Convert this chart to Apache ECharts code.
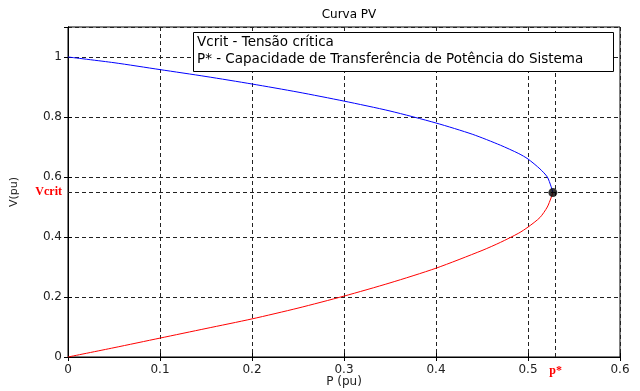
<!DOCTYPE html>
<html>
<head>
<meta charset="utf-8">
<script src="https://cdn.jsdelivr.net/npm/echarts@6/dist/echarts.min.js"></script>
<style>
  html, body { margin: 0; padding: 0; background: #fff; }
  #chart { width: 640px; height: 391px; }
</style>
</head>
<body>
<div id="chart"></div>
<script>
// ramo superior (azul)
const pUpper = [0, 0.05, 0.1, 0.15, 0.2, 0.25, 0.3, 0.35, 0.4, 0.44, 0.47, 0.49, 0.5, 0.513, 0.521, 0.525, 0.527];
const vUpper = [1, 0.981, 0.958, 0.935, 0.91, 0.883, 0.853, 0.82, 0.78, 0.742, 0.706, 0.678, 0.66, 0.627, 0.6, 0.569, 0.548];
// ramo inferior (vermelho)
const pLower = [0, 0.05, 0.1, 0.15, 0.2, 0.25, 0.3, 0.35, 0.4, 0.45, 0.47, 0.49, 0.5, 0.513, 0.521, 0.525, 0.527];
const vLower = [0, 0.031, 0.063, 0.095, 0.127, 0.163, 0.203, 0.247, 0.296, 0.355, 0.382, 0.413, 0.433, 0.465, 0.5, 0.53, 0.548];
// ponto crítico
const pStar = 0.527;
const vCrit = 0.548;

const legendLines = ['Vcrit - Tensão crítica', 'P* - Capacidade de Transferência de Potência do Sistema'];

const font = 'DejaVu Sans, Arial, sans-serif';
const serif = 'Liberation Serif, Times New Roman, serif';
const zip = (a, b) => a.map((x, i) => [x, b[i]]);

const gridLine = { show: true, lineStyle: { color: '#222', type: [4, 3], width: 1 } };
const tickIn = { show: true, inside: true, length: 4, lineStyle: { color: '#000' } };
const axisLbl = { color: '#222', fontSize: 12, fontFamily: font };

const myChart = echarts.init(document.getElementById('chart'));
const option = {
  animation: false,
  title: {
    text: 'Curva PV', left: 344, top: 4, textAlign: 'center',
    textStyle: { fontSize: 12, fontWeight: 'normal', color: '#000', fontFamily: font }
  },
  grid: {
    left: 68, right: 20, top: 27, bottom: 34, outerBoundsMode: 'none', containLabel: false,
    show: true, borderColor: '#000', borderWidth: 1
  },
  xAxis: [
    {
      type: 'value', min: 0, max: 0.6, interval: 0.1,
      name: 'P (pu)', nameLocation: 'middle', nameGap: 25, nameMoveOverlap: false,
      nameTextStyle: { fontSize: 12, color: '#222', fontFamily: font, verticalAlign: 'middle' },
      axisLine: { show: true, lineStyle: { color: '#000' } },
      axisTick: tickIn, splitLine: gridLine,
      axisLabel: Object.assign({ margin: 7 }, axisLbl)
    },
    {
      type: 'value', min: 0, max: 0.6, interval: 0.1, position: 'top',
      axisLine: { show: true, lineStyle: { color: '#000' } },
      axisTick: tickIn, splitLine: { show: false }, axisLabel: { show: false }
    }
  ],
  yAxis: [
    {
      type: 'value', min: 0, max: 1.1, interval: 0.2,
      name: 'V(pu)', nameLocation: 'middle', nameGap: 48, nameMoveOverlap: false,
      nameTextStyle: { fontSize: 11, color: '#222', fontFamily: font },
      axisLine: { show: true, lineStyle: { color: '#000' } },
      axisTick: tickIn, splitLine: gridLine,
      axisLabel: Object.assign({ margin: 6, showMaxLabel: false }, axisLbl)
    },
    {
      type: 'value', min: 0, max: 1.1, interval: 0.2, position: 'right',
      axisLine: { show: true, lineStyle: { color: '#000' } },
      axisTick: tickIn, splitLine: { show: false }, axisLabel: { show: false }
    }
  ],
  graphic: [
    {
      type: 'rect', left: 193, top: 32, z: 100,
      shape: { width: 420, height: 39 },
      style: { fill: '#fff', stroke: '#000', lineWidth: 1 }
    },
    {
      type: 'text', left: 197, top: 35, z: 101,
      style: { text: legendLines[0], fontSize: 13.5, fontFamily: font, fill: '#000' }
    },
    {
      type: 'text', left: 197, top: 52, z: 101,
      style: { text: legendLines[1], fontSize: 13.5, fontFamily: font, fill: '#000' }
    }
  ],
  series: [
    {
      type: 'line', data: zip(pUpper, vUpper), symbol: 'none', smooth: 0.25,
      lineStyle: { color: '#0000ff', width: 1 },
      markLine: {
        silent: true, symbol: 'none',
        lineStyle: { color: '#222', type: [4, 3], width: 1 },
        data: [
          { yAxis: vCrit, label: { show: true, position: 'start', formatter: 'Vcrit', color: '#ff0000', fontFamily: serif, fontSize: 12, fontWeight: 'bold', distance: 6 } },
          { xAxis: pStar, label: { show: true, position: 'start', formatter: 'p*', color: '#ff0000', fontFamily: serif, fontSize: 12, fontWeight: 'bold', distance: 8 } }
        ]
      }
    },
    {
      type: 'line', data: zip(pLower, vLower), symbol: 'none', smooth: 0.25,
      lineStyle: { color: '#ff0000', width: 1 }
    },
    {
      type: 'scatter', data: [[pStar, vCrit]], symbolSize: 9,
      itemStyle: { color: '#000' }, z: 5
    }
  ]
};
myChart.setOption(option);
</script>
</body>
</html>
